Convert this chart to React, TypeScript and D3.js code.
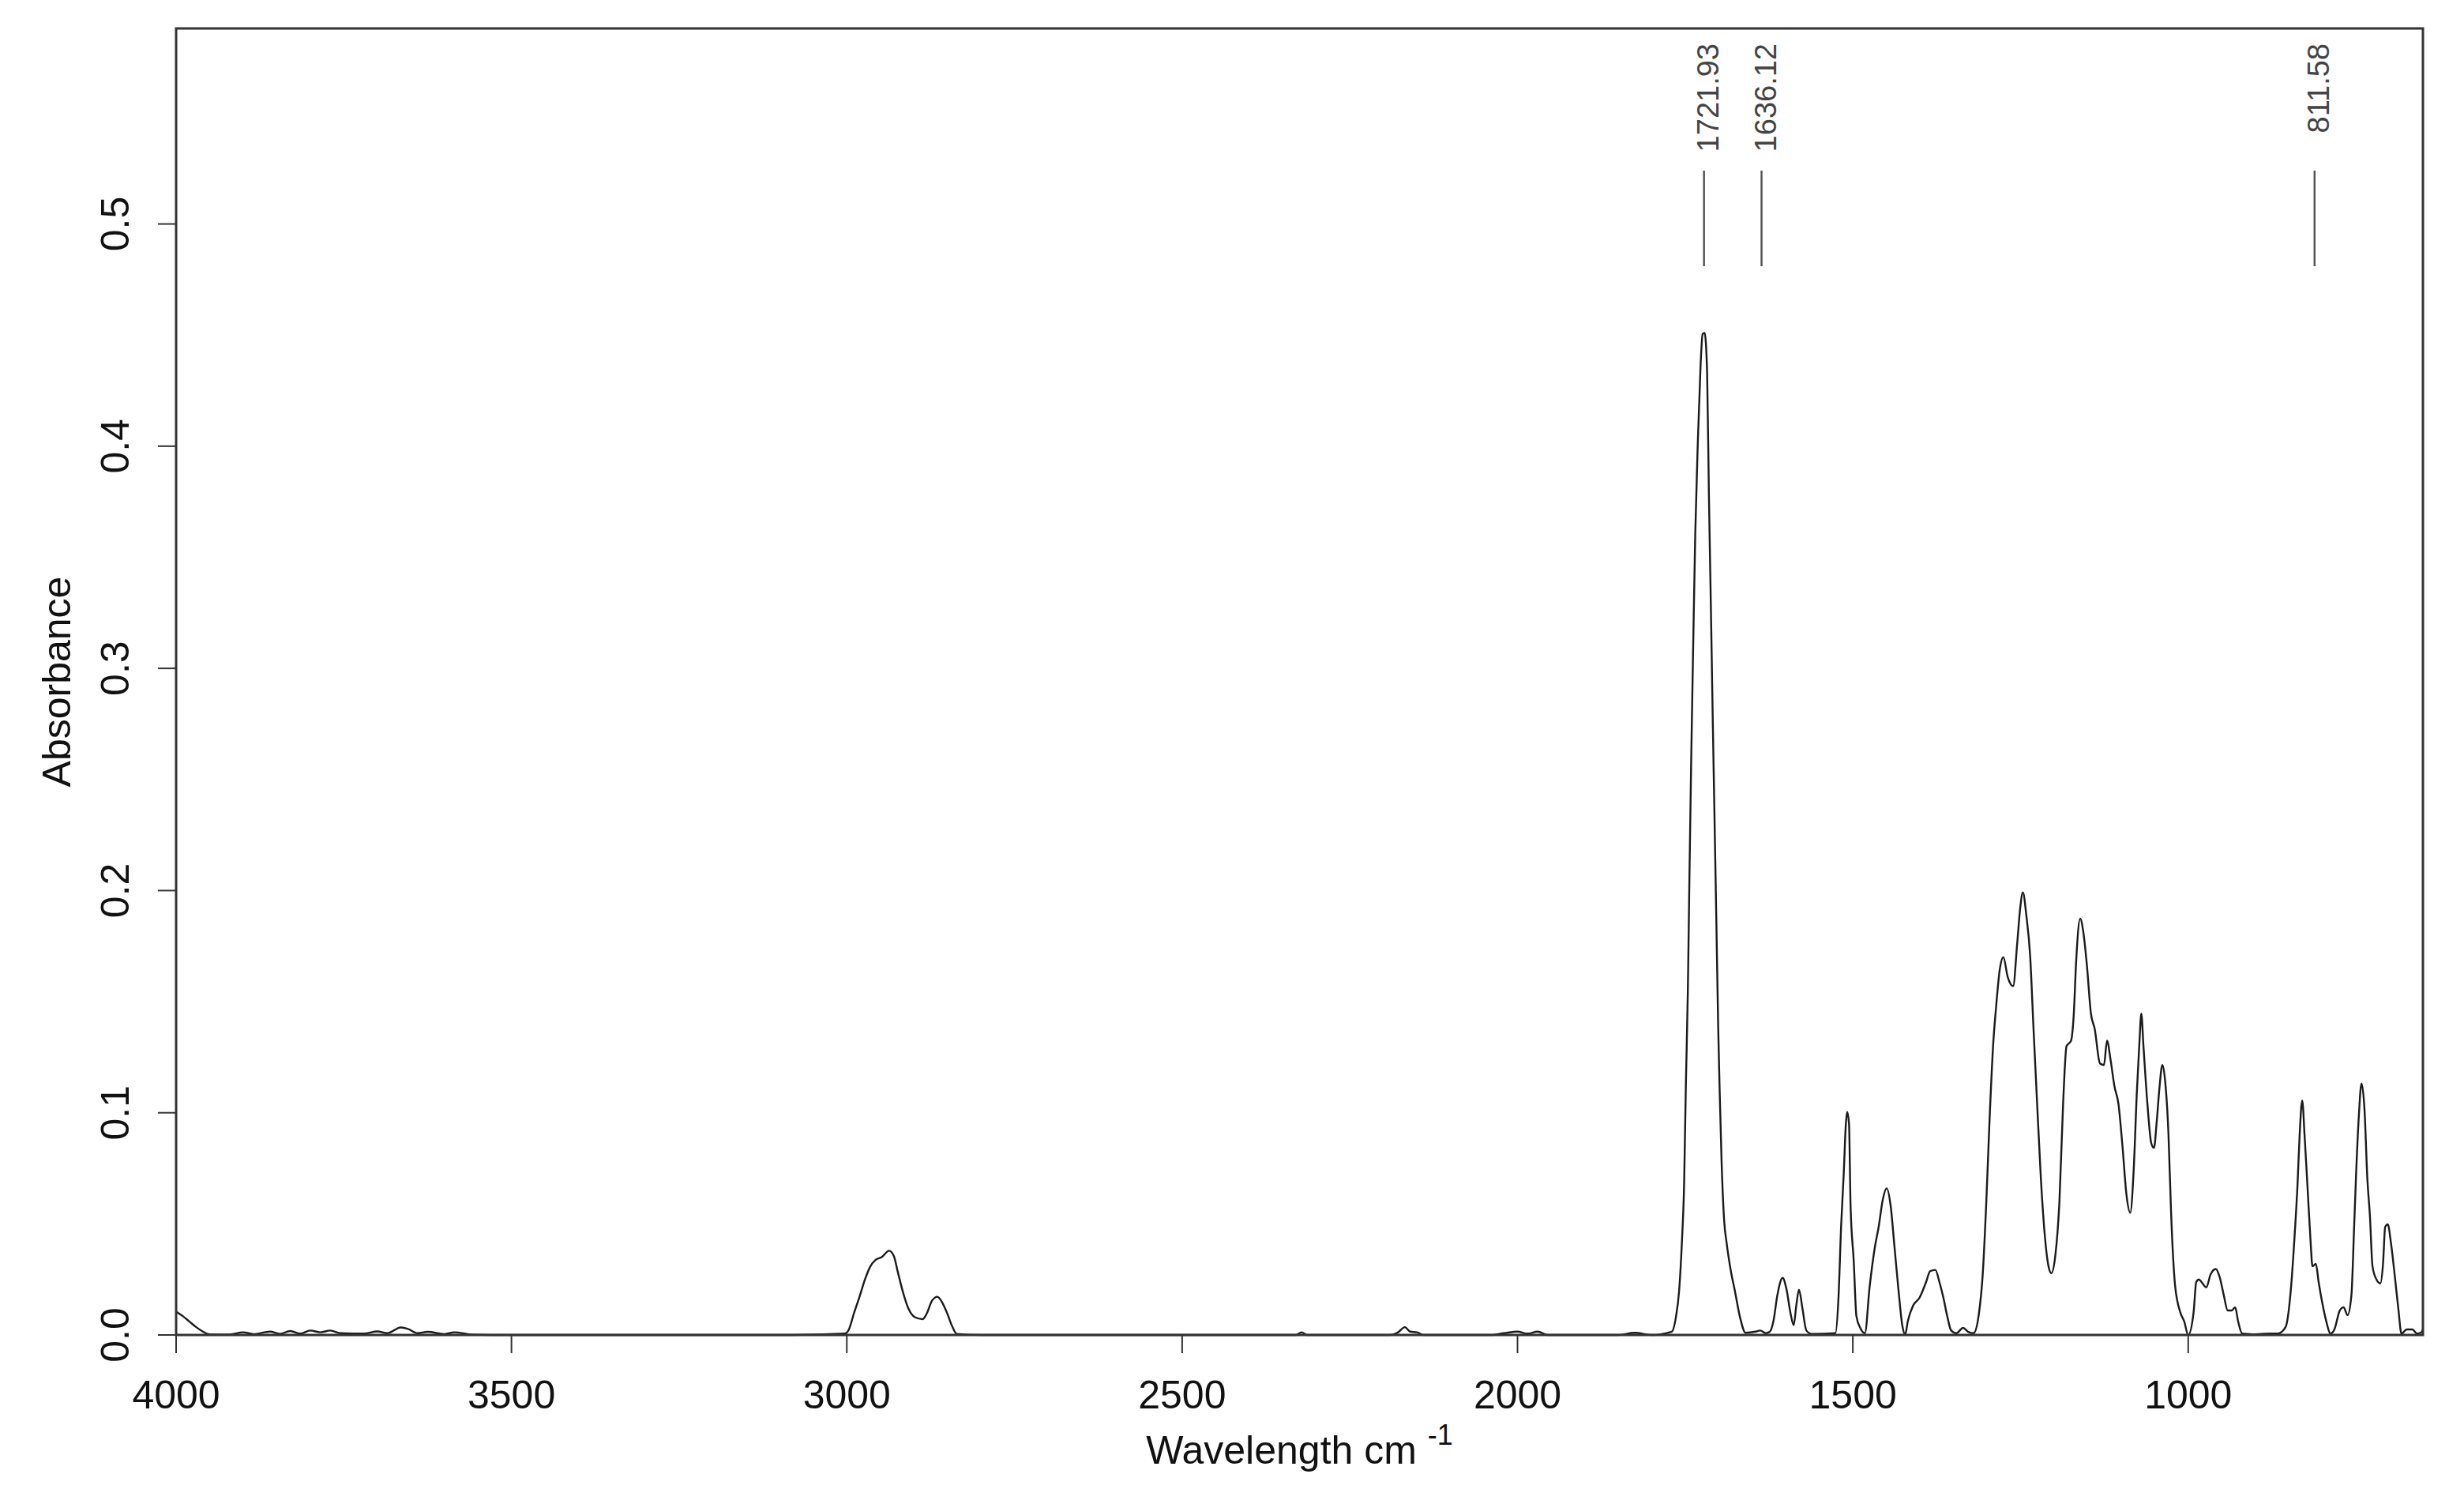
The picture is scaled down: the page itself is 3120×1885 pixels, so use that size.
import React from 'react';
import * as d3 from 'd3';

// Spectrum (wavenumber, absorbance), in descending wavenumber
const wavenumbers = [
  4000, 3990, 3980, 3970, 3960, 3950, 3920, 3900, 3885, 3860, 3845, 3830, 3815, 3800, 3785, 3770, 3755, 3720, 3700, 3685,
  3665, 3655, 3640, 3625, 3600, 3585, 3560, 3500, 3100, 3003, 2997, 2989, 2981, 2973, 2965, 2957, 2948, 2937, 2930, 2924,
  2916, 2908, 2899, 2887, 2881, 2873, 2865, 2857, 2850, 2843, 2836, 2800, 2330, 2322, 2314, 2190, 2178, 2168, 2160, 2150,
  2140, 2040, 2020, 2000, 1985, 1970, 1955, 1850, 1825, 1800, 1770, 1764, 1759, 1755, 1751.5, 1749, 1746, 1743.6, 1741, 1738,
  1735, 1731, 1727, 1724, 1721, 1717.3, 1714.6, 1711.4, 1708.7, 1706.7, 1703.6, 1700.8, 1698.5, 1695.7, 1692, 1688, 1682, 1676, 1668, 1660,
  1645, 1638, 1630, 1624, 1618.4, 1612.5, 1604.7, 1598.8, 1592.9, 1588.2, 1584.3, 1580.3, 1575.2, 1569.3, 1561.5, 1526, 1521.4, 1517.5, 1513.6, 1510.4,
  1508.5, 1505.7, 1503.4, 1498.7, 1494.7, 1489, 1482, 1475, 1467.3, 1461.4, 1455.5, 1449.6, 1443.7, 1437.8, 1432, 1426, 1422, 1418, 1410, 1400.5,
  1390.7, 1384.8, 1377, 1371, 1365, 1359.3, 1353.4, 1345.6, 1335.7, 1328, 1320, 1312, 1306.3, 1301, 1296, 1290.5, 1286.6, 1280.7, 1275.6, 1269,
  1261, 1255, 1250.5, 1246.5, 1241.4, 1235.6, 1230.8, 1225.7, 1219.8, 1214, 1208, 1204, 1198, 1192, 1186.5, 1181.4, 1174.7, 1170.8, 1166.9, 1161,
  1156.2, 1151, 1145, 1139.4, 1131.5, 1125.6, 1121, 1115.8, 1110, 1104, 1098, 1092, 1086.4, 1081.3, 1076.6, 1072.6, 1069.9, 1066.7, 1060.8, 1055,
  1051, 1047, 1043, 1038.5, 1034.5, 1029.4, 1025.5, 1019.6, 1011.8, 1005.9, 1000, 992, 988, 984, 980, 973, 966.6, 958.8, 953, 947,
  941, 935, 930, 925.4, 919.5, 904, 878, 866.5, 854.7, 847, 841, 837, 834, 830, 826.5, 821.4, 817.4, 814.7, 809.6, 805.6,
  800, 794, 788, 782, 774, 768.3, 762.4, 756.6, 752.6, 749.5, 745.6, 741.6, 737, 733, 729, 725.2, 719.3, 713.4, 709.5, 706.3,
  702.4, 697.7, 691.8, 686.7, 682, 674, 666, 658.4, 652.5, 650,
];

const absorbance = [
  0.0105, 0.0085, 0.006, 0.0035, 0.0015, 0.0003, 0.0002, 0.0012, 0.0004, 0.0015, 0.0005, 0.0018, 0.0006, 0.002, 0.0012, 0.002, 0.0008, 0.0006, 0.0016, 0.0008,
  0.0034, 0.0028, 0.0008, 0.0014, 0.0004, 0.0012, 0.0002, 0.0, 0.0, 0.0006, 0.0024, 0.0101, 0.0172, 0.0249, 0.0308, 0.0338, 0.035, 0.0379, 0.0356, 0.0284,
  0.019, 0.0118, 0.0081, 0.0071, 0.0095, 0.0154, 0.0172, 0.0142, 0.0095, 0.004, 0.0005, 0.0, 0.0, 0.0012, 0.0, 0.0, 0.0012, 0.0035, 0.0015, 0.0012,
  0.0, 0.0, 0.0008, 0.0015, 0.0006, 0.0015, 0.0, 0.0, 0.001, 0.0, 0.0015, 0.0077, 0.02, 0.041, 0.069, 0.112, 0.155, 0.207, 0.259, 0.311,
  0.36, 0.403, 0.4366, 0.4504, 0.451, 0.4335, 0.378, 0.323, 0.274, 0.2405, 0.188, 0.139, 0.109, 0.078, 0.052, 0.041, 0.029, 0.02, 0.0077, 0.001,
  0.0015, 0.002, 0.0008, 0.0014, 0.0062, 0.018, 0.0257, 0.0204, 0.0097, 0.0044, 0.0133, 0.0204, 0.0121, 0.002, 0.0005, 0.0008, 0.0168, 0.0488, 0.0725, 0.095,
  0.1004, 0.095, 0.0583, 0.0334, 0.0085, 0.0032, 0.0008, 0.0216, 0.0393, 0.0488, 0.0607, 0.066, 0.0583, 0.0393, 0.0204, 0.0038, 0.0002, 0.0062, 0.0133, 0.0168,
  0.0239, 0.0287, 0.0293, 0.0239, 0.0168, 0.0085, 0.002, 0.0008, 0.0032, 0.0014, 0.0008, 0.0097, 0.0275, 0.06, 0.098, 0.132, 0.147, 0.165, 0.17, 0.161,
  0.157, 0.176, 0.192, 0.1992, 0.189, 0.1704, 0.139, 0.107, 0.0713, 0.0455, 0.0305, 0.0278, 0.036, 0.06, 0.104, 0.13, 0.1324, 0.1433, 0.169, 0.1874,
  0.181, 0.1663, 0.1446, 0.1378, 0.1222, 0.1215, 0.1324, 0.124, 0.112, 0.104, 0.085, 0.063, 0.055, 0.074, 0.109, 0.1324, 0.1446, 0.13, 0.104, 0.0862,
  0.0842, 0.0957, 0.1107, 0.1215, 0.1147, 0.0903, 0.055, 0.0224, 0.0102, 0.0061, 0.0, 0.01, 0.0238, 0.025, 0.0238, 0.0214, 0.0273, 0.0297, 0.026, 0.018,
  0.011, 0.011, 0.0125, 0.0059, 0.0006, 0.0003, 0.0006, 0.0006, 0.0036, 0.0202, 0.0463, 0.0676, 0.0889, 0.1055, 0.09, 0.0628, 0.0415, 0.0309, 0.032, 0.024,
  0.0143, 0.006, 0.0006, 0.0025, 0.011, 0.0125, 0.0089, 0.018, 0.0486, 0.0735, 0.0984, 0.1132, 0.1008, 0.0711, 0.0534, 0.0309, 0.025, 0.0232, 0.032, 0.0486,
  0.0498, 0.0415, 0.0261, 0.0119, 0.0006, 0.0025, 0.0025, 0.0006, 0.0012, 0.0025,
];

const xTickValues = [4000, 3500, 3000, 2500, 2000, 1500, 1000];
const xTickLabels = ['4000', '3500', '3000', '2500', '2000', '1500', '1000'];
const yTickValues = [0, 0.1, 0.2, 0.3, 0.4, 0.5];
const yTickLabels = ['0.0', '0.1', '0.2', '0.3', '0.4', '0.5'];
const peakPositions = [1721.93, 1636.12, 811.58];
const peakLabels = ['1721.93', '1636.12', '811.58'];
const xDomain = [4000, 650];
const yDomain = [0, 0.588];

const W = 3120;
const H = 1885;
const PLOT = { left: 223, right: 3068, top: 36, bottom: 1690 };
const FONT = '"Liberation Sans", Arial, Helvetica, sans-serif';

export default function App() {
  const x = d3.scaleLinear().domain(xDomain).range([PLOT.left, PLOT.right]);
  const y = d3.scaleLinear().domain(yDomain).range([PLOT.bottom, PLOT.top]);
  const pts: [number, number][] = wavenumbers.map((w, i) => [w, absorbance[i]]);
  const line = d3
    .line<[number, number]>()
    .x((d) => x(d[0]))
    .y((d) => y(d[1]))
    .curve(d3.curveMonotoneX);
  const path = line(pts) || '';
  const tickLen = 23;

  return (
    <svg
      width={W}
      height={H}
      viewBox={`0 0 ${W} ${H}`}
      style={{ position: 'absolute', left: 0, top: 0, background: '#fff' }}
    >
      <rect x={0} y={0} width={W} height={H} fill="#fff" />
      <defs>
        <clipPath id="plotClip">
          <rect x={PLOT.left} y={PLOT.top - 2} width={PLOT.right - PLOT.left} height={PLOT.bottom - PLOT.top + 4} />
        </clipPath>
      </defs>

      {/* spectrum */}
      <path d={path} fill="none" stroke="#1a1a1a" strokeWidth={2.4} strokeLinejoin="round" clipPath="url(#plotClip)" />

      {/* frame */}
      <rect
        x={PLOT.left}
        y={PLOT.top}
        width={PLOT.right - PLOT.left}
        height={PLOT.bottom - PLOT.top}
        fill="none"
        stroke="#333"
        strokeWidth={3}
      />

      {/* x axis ticks */}
      {xTickValues.map((v, i) => (
        <g key={`xt${i}`}>
          <line x1={x(v)} x2={x(v)} y1={PLOT.bottom} y2={PLOT.bottom + tickLen} stroke="#333" strokeWidth={2} />
          <text x={x(v)} y={1783} textAnchor="middle" fontFamily={FONT} fontSize={50} fill="#111">
            {xTickLabels[i]}
          </text>
        </g>
      ))}

      {/* y axis ticks */}
      {yTickValues.map((v, i) => (
        <g key={`yt${i}`}>
          <line x1={PLOT.left - tickLen} x2={PLOT.left} y1={y(v)} y2={y(v)} stroke="#333" strokeWidth={2} />
          <text
            x={163}
            y={y(v)}
            transform={`rotate(-90, 163, ${y(v)})`}
            textAnchor="middle"
            fontFamily={FONT}
            fontSize={50}
            fill="#111"
          >
            {yTickLabels[i]}
          </text>
        </g>
      ))}

      {/* axis titles */}
      <text x={(PLOT.left + PLOT.right) / 2} y={1853} textAnchor="middle" fontFamily={FONT} fontSize={50} fill="#111">
        <tspan>Wavelength cm </tspan>
        <tspan fontSize={36} dy={-24}>-1</tspan>
      </text>
      <text
        x={89}
        y={(PLOT.top + PLOT.bottom) / 2}
        transform={`rotate(-90, 89, ${(PLOT.top + PLOT.bottom) / 2})`}
        textAnchor="middle"
        fontFamily={FONT}
        fontSize={50}
        fill="#111"
      >
        Absorbance
      </text>

      {/* peak annotations */}
      {peakPositions.map((p, i) => (
        <g key={`pk${i}`}>
          <line x1={x(p)} x2={x(p)} y1={216} y2={337} stroke="#555" strokeWidth={2.5} />
          <text
            x={x(p) + 18}
            y={55}
            transform={`rotate(-90, ${x(p) + 18}, 55)`}
            textAnchor="end"
            fontFamily={FONT}
            fontSize={38}
            fill="#444"
          >
            {peakLabels[i]}
          </text>
        </g>
      ))}
    </svg>
  );
}
